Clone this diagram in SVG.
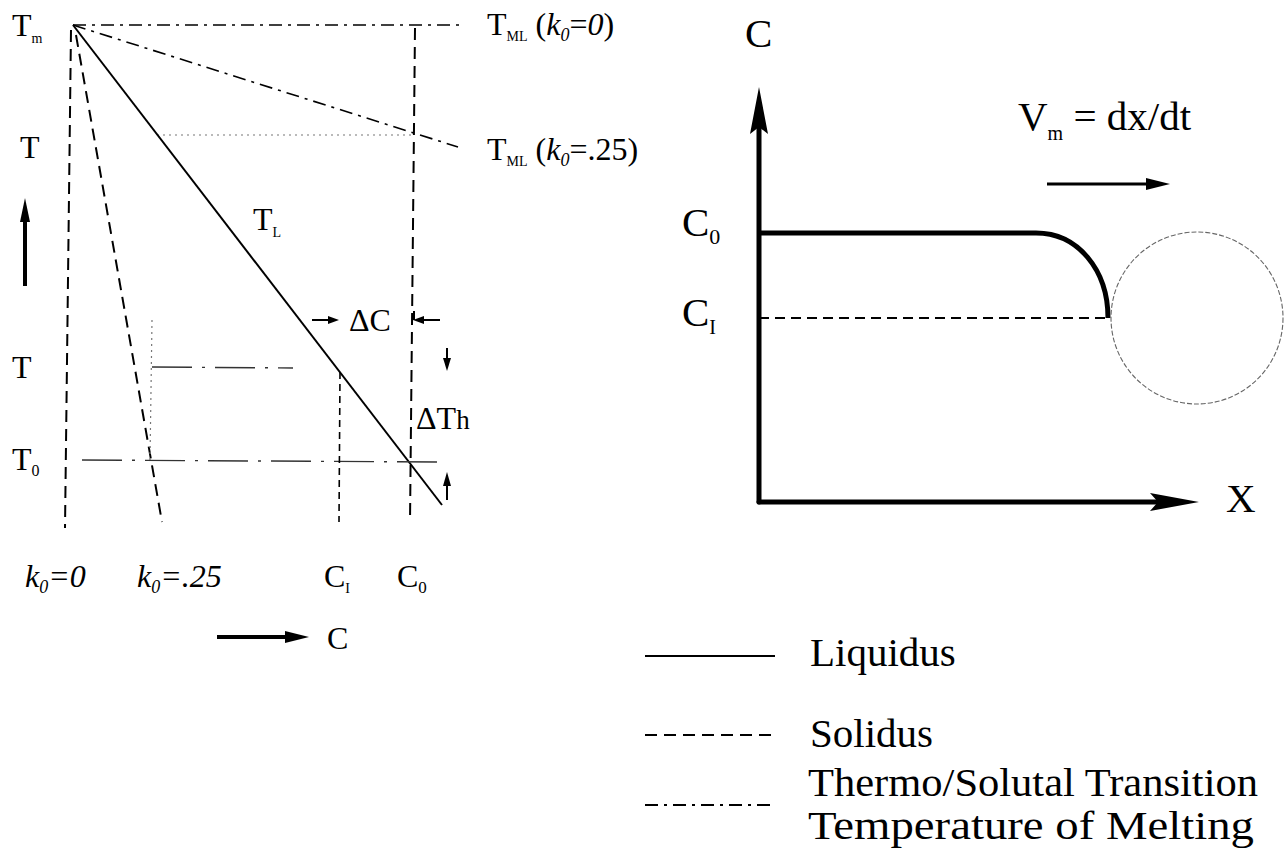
<svg xmlns="http://www.w3.org/2000/svg" width="1286" height="850" viewBox="0 0 1286 850">
<style>
text{font-family:"Liberation Serif","Times New Roman",serif;fill:#000}
.s28{font-size:32px}
.s40{font-size:41px}
.it{font-style:italic}
.liq{stroke:#000;stroke-width:2;fill:none}
.sol{stroke:#000;stroke-width:2;fill:none;stroke-dasharray:12 7}
.tml{stroke:#000;stroke-width:1.6;fill:none;stroke-dasharray:13 6 3 6}
.dot{stroke:#777;stroke-width:1.2;fill:none;stroke-dasharray:2 4}
.ldd{stroke:#333;stroke-width:1.4;fill:none;stroke-dasharray:40 10 3 10}
.thin{stroke:#000;stroke-width:2;fill:none}
.thick{stroke:#000;stroke-width:5;fill:none;stroke-linecap:round}
.ah{fill:#000}
</style>
<rect width="1286" height="850" fill="#fff"/>
<g id="connectors">
  <line class="tml" x1="73" y1="25" x2="462" y2="25"/>
  <line class="tml" x1="73" y1="25" x2="458" y2="147"/>
  <line class="sol" x1="415" y1="28" x2="410" y2="522"/>
  <line class="dot" x1="157" y1="135" x2="413" y2="135"/>
  <line class="liq" x1="73" y1="25" x2="442" y2="505"/>
  <line class="sol" x1="71" y1="30" x2="65" y2="528"/>
  <line class="sol" x1="76" y1="35" x2="162" y2="522"/>
  <line class="ldd" x1="152" y1="367" x2="293" y2="368"/>
  <line class="dot" x1="152" y1="320" x2="150" y2="460"/>
  <line class="ldd" x1="82" y1="460" x2="438" y2="462"/>
  <line class="sol" x1="340" y1="372" x2="339" y2="522" style="stroke-dasharray:7 5;stroke-width:1.6"/>
  <line x1="25" y1="286" x2="25" y2="215" stroke="#000" stroke-width="4"/>
  <polygon class="ah" points="25,198 30,222 20,222"/>
  <line class="thin" x1="312" y1="320" x2="330" y2="320"/>
  <polygon class="ah" points="339,320 328,316 328,324"/>
  <line class="thin" x1="440" y1="320" x2="422" y2="320"/>
  <polygon class="ah" points="413,320 424,316 424,324"/>
  <line class="thin" x1="414" y1="311" x2="414" y2="320"/>
  <line class="thin" x1="447" y1="348" x2="447" y2="360"/>
  <polygon class="ah" points="447,371 443,358 451,358"/>
  <line class="thin" x1="447" y1="500" x2="447" y2="484"/>
  <polygon class="ah" points="447,472 443,486 451,486"/>
  <line x1="217" y1="637" x2="290" y2="637" stroke="#000" stroke-width="4"/>
  <polygon class="ah" points="309,637 285,631 285,643"/>
  <line class="thick" x1="759" y1="502" x2="759" y2="120"/>
  <polygon class="ah" points="759,87 768,134 759,127 750,134"/>
  <line class="thick" x1="759" y1="502" x2="1170" y2="502"/>
  <polygon class="ah" points="1199,502 1150,493 1158,502 1150,511"/>
  <line x1="1047" y1="184" x2="1150" y2="184" stroke="#000" stroke-width="3"/>
  <polygon class="ah" points="1170,184 1146,178 1146,190"/>
  <path d="M759,233 H1036 C1078,233 1108,270 1108,318" stroke="#000" stroke-width="5" fill="none"/>
  <line x1="759" y1="318" x2="1108" y2="318" stroke="#000" stroke-width="2" stroke-dasharray="10 6"/>
  <line class="liq" x1="645" y1="656" x2="775" y2="656"/>
  <line class="sol" x1="645" y1="735" x2="775" y2="735"/>
  <line class="tml" x1="645" y1="805" x2="772" y2="805" style="stroke-width:2"/>
</g>
<g id="particle">
  <circle cx="1197" cy="318" r="86" fill="none" stroke="#666" stroke-width="1.1" stroke-dasharray="5 2"/>
</g>
<g id="label-Tm"><text class="s28" x="12" y="36">T<tspan font-size="14" dy="7">m</tspan></text></g>
<g id="label-TML0"><text class="s28" x="487" y="35">T<tspan font-size="14" dy="6">ML</tspan><tspan dy="-6"> (</tspan><tspan class="it">k</tspan><tspan class="it" font-size="18" dy="6">0</tspan><tspan dy="-6">=</tspan><tspan class="it">0</tspan>)</text></g>
<g id="label-TML25"><text class="s28" x="487" y="160">T<tspan font-size="14" dy="6">ML</tspan><tspan dy="-6"> (</tspan><tspan class="it">k</tspan><tspan class="it" font-size="18" dy="6">0</tspan><tspan dy="-6">=.25</tspan>)</text></g>
<g id="label-T1"><text class="s28" x="20" y="158">T</text></g>
<g id="label-TL"><text class="s28" x="253" y="230">T<tspan font-size="14" dy="7">L</tspan></text></g>
<g id="label-dC"><text class="s28" x="349" y="331">ΔC</text></g>
<g id="label-T2"><text class="s28" x="12" y="378">T</text></g>
<g id="label-dTh"><text class="s28" x="416" y="429">ΔT<tspan font-size="27">h</tspan></text></g>
<g id="label-T0"><text class="s28" x="12" y="470">T<tspan font-size="16" dy="6">0</tspan></text></g>
<g id="label-k0"><text class="s28 it" x="25" y="587">k<tspan font-size="18" dy="6">0</tspan><tspan dy="-6">=0</tspan></text></g>
<g id="label-k25"><text class="s28 it" x="137" y="587">k<tspan font-size="18" dy="6">0</tspan><tspan dy="-6">=.25</tspan></text></g>
<g id="label-CI"><text class="s28" x="324" y="587">C<tspan font-size="14" dy="6">I</tspan></text></g>
<g id="label-C0"><text class="s28" x="397" y="587">C<tspan font-size="17" dy="6">0</tspan></text></g>
<g id="label-Caxis"><text class="s28" x="327" y="649">C</text></g>
<g id="label-C"><text class="s40" x="745" y="47">C</text></g>
<g id="label-Vm"><text class="s40" x="1018" y="130">V<tspan font-size="20" dy="10">m</tspan><tspan dy="-10"> = dx/dt</tspan></text></g>
<g id="label-C0r"><text class="s40" x="682" y="236">C<tspan font-size="22" dy="8">0</tspan></text></g>
<g id="label-CIr"><text class="s40" x="682" y="326">C<tspan font-size="20" dy="8">I</tspan></text></g>
<g id="label-X"><text class="s40" x="1226" y="512">X</text></g>
<g id="legend">
  <text class="s40" x="810" y="666">Liquidus</text>
  <text class="s40" x="810" y="747">Solidus</text>
  <text class="s40" x="808" y="796" textLength="450" lengthAdjust="spacingAndGlyphs">Thermo/Solutal Transition</text>
  <text class="s40" x="808" y="839" textLength="446" lengthAdjust="spacingAndGlyphs">Temperature of Melting</text>
</g>
</svg>
